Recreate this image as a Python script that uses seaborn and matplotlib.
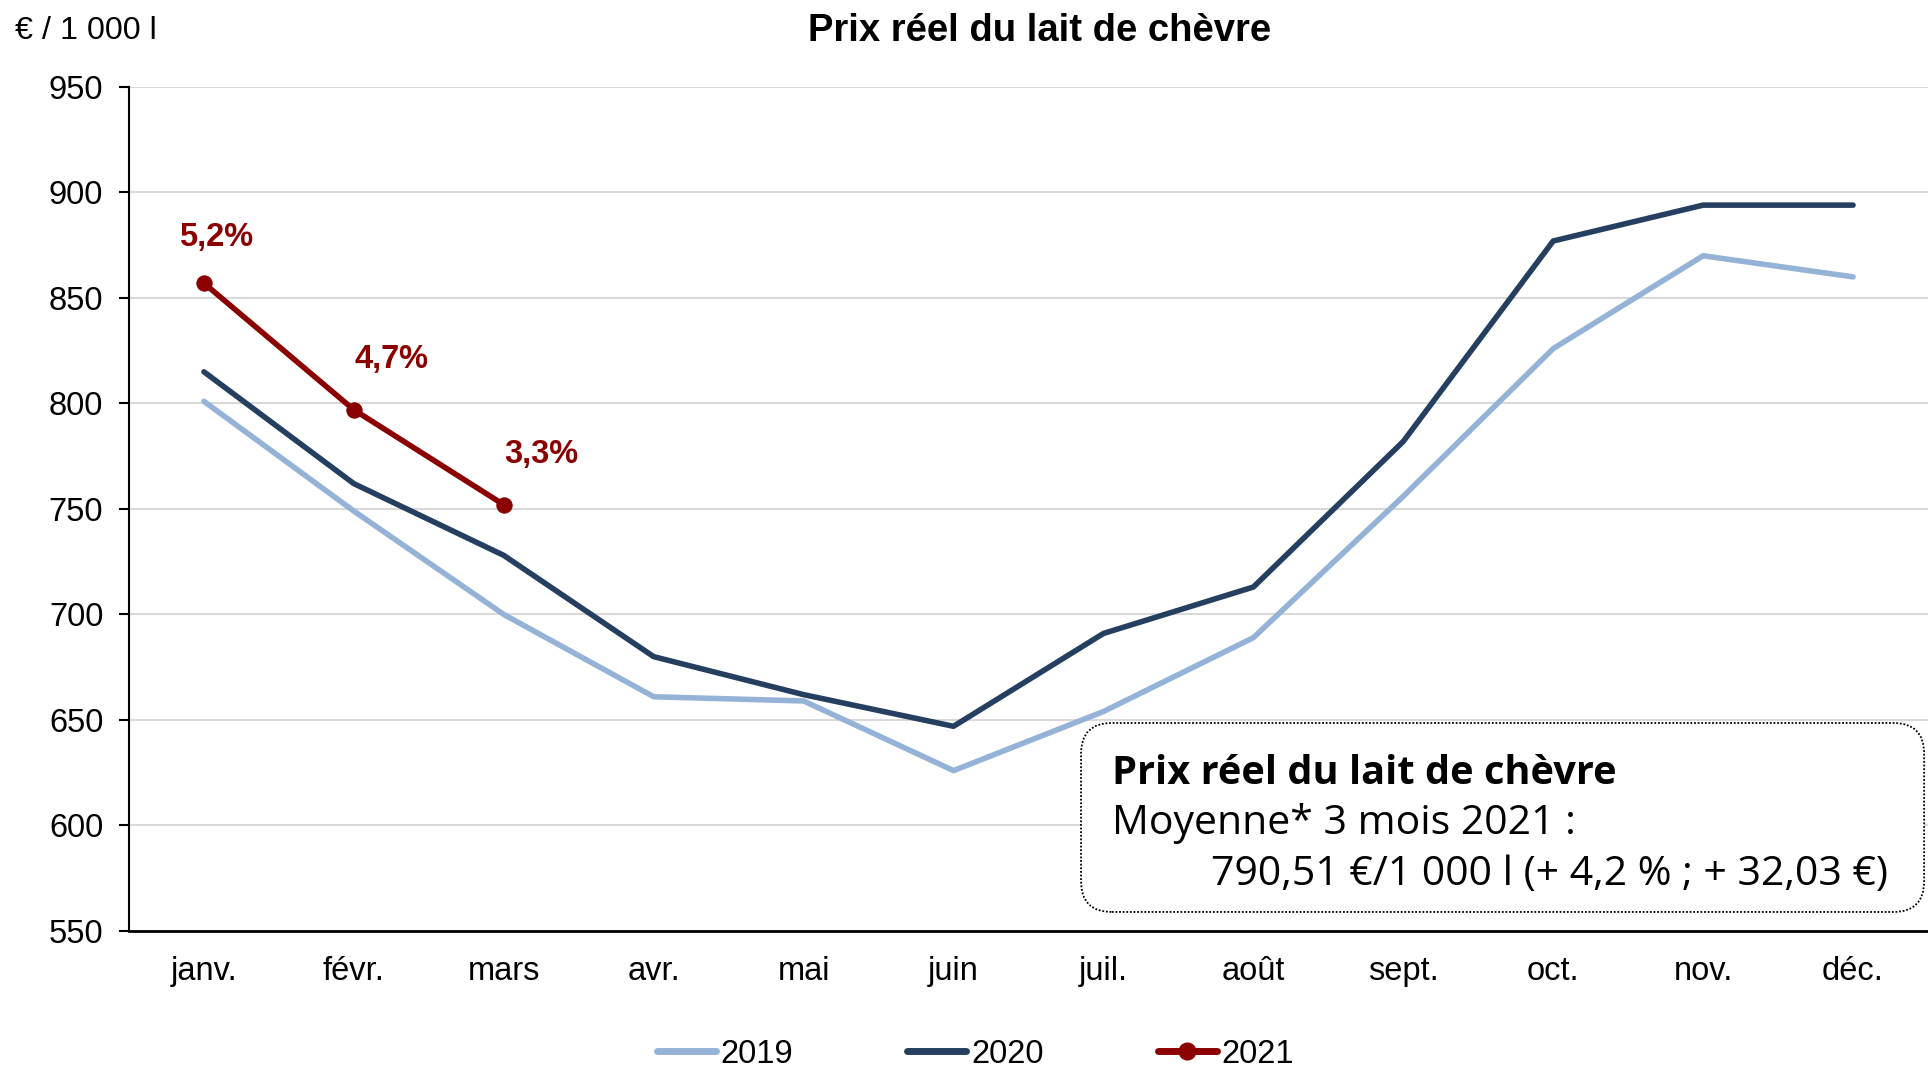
import numpy as np
import pandas as pd
import matplotlib.pyplot as plt
import seaborn as sns
from matplotlib.patches import FancyBboxPatch
from matplotlib.lines import Line2D

# données (€ / 1 000 l)
mois = ["janv.", "févr.", "mars", "avr.", "mai", "juin",
        "juil.", "août", "sept.", "oct.", "nov.", "déc."]
prix_2019 = [801, 749, 700, 661, 659, 626, 654, 689, 756, 826, 870, 860]
prix_2020 = [815, 762, 728, 680, 662, 647, 691, 713, 782, 877, 894, 894]
prix_2021 = [857, 797, 752]
evol_2021 = ["5,2%", "4,7%", "3,3%"]
annees = ["2019", "2020", "2021"]
couleurs = ["#95B3D7", "#243F60", "#8B0000"]

series = [prix_2019, prix_2020, prix_2021]
df = pd.concat([
    pd.DataFrame({"mois": np.arange(len(vals)), "prix": vals, "annee": a})
    for a, vals in zip(annees, series)
], ignore_index=True)

sns.set_theme(style="white")
plt.rcParams["font.family"] = ["Liberation Sans", "DejaVu Sans"]
plt.rcParams["text.color"] = "black"

fig = plt.figure(figsize=(19.28, 10.67), dpi=100)
ax = fig.add_axes([0.0669, 0.1275, 0.9331, 0.791])

for a, c in zip(annees, couleurs):
    sub = df[df["annee"] == a]
    sns.lineplot(data=sub, x="mois", y="prix", color=c, lw=4,
                 marker="o" if a == "2021" else None, ms=11, mec=c,
                 ax=ax, legend=False, zorder=3)

# étiquettes d'évolution 2021
sub21 = df[df["annee"] == "2021"]
offsets = [(9, 33), (27, 36), (27, 36)]
for (x, y), lab, off in zip(sub21[["mois", "prix"]].values, evol_2021, offsets):
    ax.annotate(lab, (x, y), xytext=off, textcoords="offset points",
                ha="center", va="center", fontsize=23.5, fontweight="bold",
                color="#8B0000")

ax.set_xlim(-0.5, 11.5)
ax.set_ylim(550, 950)
ax.set_yticks(np.arange(550, 951, 50))
ax.set_xticks(np.arange(12))
ax.set_xticklabels(mois)
ax.set_xticks(np.arange(-0.5, 12, 1), minor=True)
ax.tick_params(axis="x", which="major", length=0, pad=18, labelsize=23.5, colors="black")
ax.tick_params(axis="x", which="minor", length=10, width=1.5, direction="out", color="black")
ax.tick_params(axis="y", length=7, width=1.5, direction="out", left=True, pad=11.5,
               labelsize=23.5, colors="black")
ax.set_xlabel("")
ax.set_ylabel("")
ax.grid(axis="y", color="#D9D9D9", lw=1.5)
ax.set_axisbelow(True)
for s in ["top", "right"]:
    ax.spines[s].set_visible(False)
ax.spines["left"].set_color("black")
ax.spines["left"].set_linewidth(1.5)
ax.spines["bottom"].set_color("black")
ax.spines["bottom"].set_linewidth(2)

fig.text(0.539, 0.971, "Prix réel du lait de chèvre", ha="center", va="center",
         fontsize=27.5, fontweight="bold", color="black")
fig.text(0.0078, 0.971, "€ / 1 000 l", ha="left", va="center", fontsize=23.2,
         color="black")

# encadré
box = FancyBboxPatch((0.5607, 0.1453), 0.4373, 0.1771, transform=fig.transFigure,
                     boxstyle="round,pad=0,rounding_size=0.016",
                     mutation_aspect=1928 / 1067, fc="white", ec="black",
                     lw=1.3, ls=(0, (1, 1)), zorder=5)
fig.patches.append(box)
police_box = ["Open Sans", "DejaVu Sans"]
fig.text(0.5768, 0.2652, "Prix réel du lait de chèvre", fontsize=28.6, fontweight="bold",
         family=police_box, va="baseline", color="black", zorder=6)
fig.text(0.5768, 0.2184, "Moyenne* 3 mois 2021 :", fontsize=29.5,
         family=police_box, va="baseline", color="black", zorder=6)
fig.text(0.6281, 0.1706, "790,51 €/1 000 l (+ 4,2 % ; + 32,03 €)", fontsize=29.5,
         family=police_box, va="baseline", color="black", zorder=6)

handles = [Line2D([], [], color=c, lw=5, marker="o" if a == "2021" else None,
                  ms=12, solid_capstyle="round") for a, c in zip(annees, couleurs)]
fig.legend(handles, annees, loc="center", bbox_to_anchor=(0.506, 0.012), ncol=3,
           frameon=False, fontsize=23.5, handlelength=1.8, handletextpad=0.15,
           columnspacing=3.5)

fig.savefig("out.png", dpi=100)
